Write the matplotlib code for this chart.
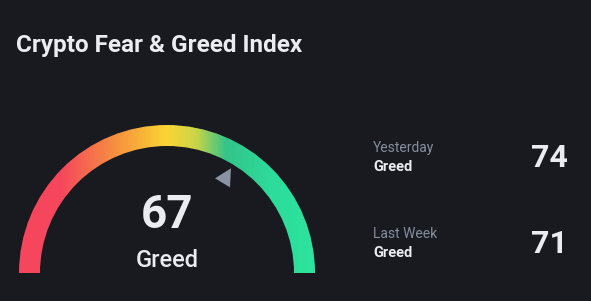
import numpy as np
import matplotlib
matplotlib.use("Agg")
import matplotlib.pyplot as plt
from matplotlib.patches import Wedge, Polygon
from matplotlib.colors import LinearSegmentedColormap

# ── data ─────────────────────────────────────────────────────────────
TITLE       = "Crypto Fear & Greed Index"
NOW_VALUE   = 67
NOW_LABEL   = "Greed"
HIST_NAMES  = ["Yesterday", "Last Week"]
HIST_LABELS = ["Greed", "Greed"]
HIST_VALUES = [74, 71]
SCALE_MIN, SCALE_MAX = 0, 100

# gradient stops across the gauge (left -> right)
GRAD_POS    = [0.0, 0.14, 0.35, 0.5, 0.6, 0.7, 0.85, 1.0]
GRAD_COLORS = ["#F6465D", "#F6465D", "#F79A3C", "#FAD534", "#C9D548",
               "#34C389", "#2DDB9A", "#2EE39E"]

# ── style ────────────────────────────────────────────────────────────
BG      = "#181A20"
WHITE   = "#EAECEF"
GREY    = "#848E9C"
PTR     = "#8A93A2"
FONT    = ["Roboto", "DejaVu Sans"]
CX, CY  = 167, 273
R_OUT   = 148
WIDTH   = 21

plt.rcParams["font.family"] = FONT

fig = plt.figure(figsize=(5.91, 3.01), dpi=100, facecolor=BG)
ax = fig.add_axes([0, 0, 1, 1])
ax.set_facecolor(BG)
ax.set_xlim(0, 591)
ax.set_ylim(301, 0)
ax.axis("off")

# gauge band: horizontal gradient clipped to a half annulus
cmap = LinearSegmentedColormap.from_list("fg", list(zip(GRAD_POS, GRAD_COLORS)))
grad = np.linspace(0, 1, 512).reshape(1, -1)
im = ax.imshow(grad, cmap=cmap, aspect="auto",
               extent=[CX - R_OUT, CX + R_OUT, CY, CY - R_OUT], zorder=1)
band = Wedge((CX, CY), R_OUT, 180, 360, width=WIDTH,
             facecolor="none", edgecolor="none", transform=ax.transData)
ax.add_patch(band)
im.set_clip_path(band)

# pointer
frac = (NOW_VALUE - SCALE_MIN) / (SCALE_MAX - SCALE_MIN)
ang = np.deg2rad(180 + 180 * frac)
r_ptr = 110
px, py = CX + r_ptr * np.cos(ang), CY + r_ptr * np.sin(ang)
tri = np.array([[-8, 0], [8, -10], [7, 9]]) + [px, py]
ax.add_patch(Polygon(tri, closed=True, facecolor=PTR, edgecolor="none", zorder=3))

# texts
ax.text(16, 52, TITLE, color=WHITE, fontsize=17.5, fontweight="bold",
        ha="left", va="baseline")
ax.text(CX, 228, str(NOW_VALUE), color=WHITE, fontsize=33, fontweight="bold",
        ha="center", va="baseline")
ax.text(CX, 267, NOW_LABEL, color=WHITE, fontsize=17, fontweight="medium",
        ha="center", va="baseline")

rows_y = [152, 238]
for y, name, lab, val in zip(rows_y, HIST_NAMES, HIST_LABELS, HIST_VALUES):
    ax.text(373, y, name, color=GREY, fontsize=10, ha="left", va="baseline")
    ax.text(373, y + 19, lab, color=WHITE, fontsize=10.5, fontweight="bold",
            ha="left", va="baseline")
    ax.text(568, y + 15, str(val), color=WHITE, fontsize=23, fontweight="bold",
            ha="right", va="baseline")

fig.savefig("out.png", dpi=100, facecolor=BG)
plt.close(fig)
